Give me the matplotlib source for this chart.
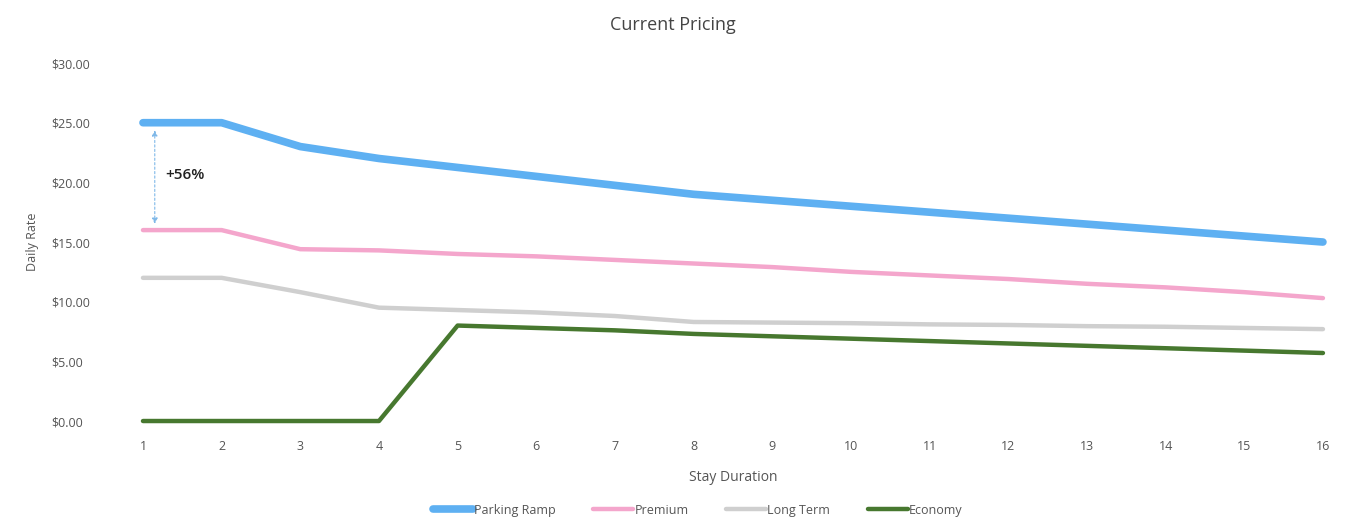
import matplotlib
matplotlib.use("Agg")
import matplotlib.pyplot as plt
from matplotlib.ticker import FuncFormatter

plt.rcParams['font.family'] = ['Open Sans', 'DejaVu Sans']

days = list(range(1, 17))
parking_ramp = [25.0, 25.0, 23.0, 22.0, 21.25, 20.5, 19.75, 19.0, 18.5, 18.0, 17.5, 17.0, 16.5, 16.0, 15.5, 15.0]
premium = [16.0, 16.0, 14.4, 14.3, 14.0, 13.8, 13.5, 13.2, 12.9, 12.5, 12.2, 11.9, 11.5, 11.2, 10.8, 10.3]
long_term = [12.0, 12.0, 10.8, 9.5, 9.3, 9.1, 8.8, 8.3, 8.25, 8.2, 8.1, 8.05, 7.95, 7.9, 7.8, 7.7]
economy = [0.0, 0.0, 0.0, 0.0, 8.0, 7.8, 7.6, 7.3, 7.1, 6.9, 6.7, 6.5, 6.3, 6.1, 5.9, 5.7]

series = [
    ("Parking Ramp", parking_ramp, "#5eb0f2", 5.5),
    ("Premium", premium, "#f4a6cc", 3.2),
    ("Long Term", long_term, "#cfcfcf", 3.2),
    ("Economy", economy, "#47782f", 3.2),
]

fig = plt.figure(figsize=(13.45, 5.21), dpi=100)
ax = fig.add_axes([0.1063, 0.1919, 0.8773, 0.6871])

for name, vals, color, lw in series:
    ax.plot(days, vals, color=color, lw=lw, label=name,
            solid_capstyle='round', clip_on=False)

# the gap between the ramp and premium rates on day 1
ax.annotate('', xy=(1.15, premium[0] + 0.3), xytext=(1.15, parking_ramp[0] - 0.4),
            arrowprops=dict(arrowstyle='<|-|>', color='#7fb8e8', lw=0.8,
                            linestyle=(0, (2, 2)), mutation_scale=8))
ax.text(1.28, 20.6, '+56%', fontsize=11, color='#222222', va='center',
        fontweight='semibold')

ax.set_xlim(1, 16)
ax.set_ylim(0, 30)
ax.set_xticks(days)
ax.set_yticks(range(0, 31, 5))
ax.yaxis.set_major_formatter(FuncFormatter(lambda v, p: f"${v:.2f}"))
ax.tick_params(length=0, labelsize=9, colors='#555555')
ax.tick_params(axis='x', pad=14)
ax.tick_params(axis='y', pad=66)
for lab in ax.get_yticklabels():
    lab.set_horizontalalignment('left')
for s in ax.spines.values():
    s.set_visible(False)

ax.set_xlabel('Stay Duration', fontsize=10, color='#555555', labelpad=12)
ax.set_ylabel('Daily Rate', fontsize=9, color='#555555', labelpad=2)
ax.yaxis.set_label_coords(-0.088, 0.5)
fig.suptitle('Current Pricing', fontsize=13, color='#444444', y=0.97)

leg = ax.legend(loc='upper center', bbox_to_anchor=(0.47, -0.2), ncol=4,
                frameon=False, fontsize=9, handlelength=3.2, columnspacing=3,
                handletextpad=0.1, labelcolor='#555555')

fig.savefig('out.png', dpi=100)
